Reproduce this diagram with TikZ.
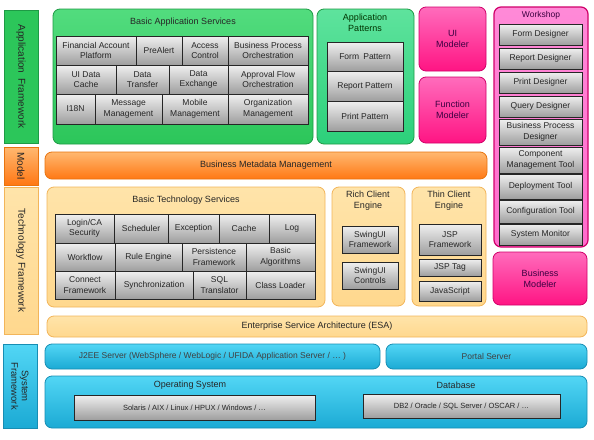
\documentclass[tikz,border=0pt]{standalone}
\usepackage{fontspec}
\setmainfont{Liberation Sans}
\usepackage{tikz}
\usetikzlibrary{calc}

\definecolor{appgreen}{HTML}{2CC65A}
\definecolor{appgreenlt}{HTML}{52DC7E}
\definecolor{appgreendk}{HTML}{1E9A45}
\definecolor{patgreen}{HTML}{2CD07A}
\definecolor{patgreenlt}{HTML}{5EE39D}
\definecolor{pinkdk}{HTML}{FF1483}
\definecolor{pinklt}{HTML}{FF6CBC}
\definecolor{pinkline}{HTML}{D0006A}
\definecolor{wspink}{HTML}{FF6CCD}
\definecolor{pinktext}{HTML}{3A0040}
\definecolor{orangedk}{HTML}{FF7814}
\definecolor{orangelt}{HTML}{FFB870}
\definecolor{orangeline}{HTML}{E8740F}
\definecolor{paleorange}{HTML}{FFE4AA}
\definecolor{paleorangedk}{HTML}{FFD88E}
\definecolor{paleline}{HTML}{F2B55A}
\definecolor{cyanlt}{HTML}{52D6F5}
\definecolor{cyandk}{HTML}{1BAAD4}
\definecolor{cyanline}{HTML}{178DB3}

\begin{document}
\begin{tikzpicture}[x=1pt,y=-1pt,
    frame/.style={rounded corners=7pt, inner sep=0pt, line width=0.8pt},
    greenframe/.style={frame, draw=appgreendk, top color=appgreenlt, bottom color=appgreen},
    patframe/.style={frame, draw=appgreendk, top color=patgreenlt, bottom color=patgreen},
    pinkframe/.style={frame, draw=pinkline, top color=pinklt, bottom color=pinkdk,
        text=pinktext, align=center, font=\fontsize{9}{11}\selectfont},
    orangeframe/.style={frame, draw=orangeline, top color=orangelt, bottom color=orangedk},
    paleframe/.style={frame, draw=paleline, top color=paleorange, bottom color=paleorangedk},
    cyanframe/.style={frame, draw=cyanline, top color=cyanlt, bottom color=cyandk,
        text=black!75, font=\fontsize{8.5}{10}\selectfont},
    side/.style={inner sep=0pt, line width=0.8pt},
    sidetext/.style={rotate=-90, align=center, text=black!85, font=\fontsize{10}{11}\selectfont},
    cell/.style={draw=black!85, line width=0.7pt, top color=black!6, bottom color=black!38,
        inner sep=0pt, align=center, text=black!85, font=\fontsize{8.5}{10.5}\selectfont},
    title/.style={align=center, text=black!85, font=\fontsize{9}{11}\selectfont}]

    % Page size of the reference
    \useasboundingbox (0,0) rectangle (594,439);

    % Box from corner (x1,y1) to corner (x2,y2): style, name, x1, y1, x2, y2, text
    \def\boxat#1#2#3#4#5#6#7{%
      \node[#1, minimum width={(#5-#3)*1pt}, minimum height={(#6-#4)*1pt}]
        (#2) at ({(#3+#5)/2},{(#4+#6)/2}) {#7};}

    % Layer labels on the left
    \boxat{side, draw=appgreendk, fill=appgreen}{appfw}{4}{10}{38}{143}{}
    \boxat{side, draw=orangeline, top color=orangelt, bottom color=orangedk}{modelfw}{4}{147}{38}{185}{}
    \boxat{side, draw=paleline, top color=paleorange, bottom color=paleorangedk}{techfw}{4}{187}{38}{334}{}
    \boxat{side, draw=cyanline, top color=cyanlt, bottom color=cyandk}{sysfw}{3}{344}{37}{428}{}
    \node[sidetext] (appfwtxt) at (appfw) {Application\enspace Framework};
    \node[sidetext] (modelfwtxt) at (modelfw) {Model};
    \node[sidetext] (techfwtxt) at (techfw) {Technology Framework};
    \node[sidetext, font=\fontsize{9.5}{10.5}\selectfont] (sysfwtxt) at (sysfw) {System\\Framework};

    % Basic application services
    \boxat{greenframe}{bas}{53}{9}{313}{144}{}
    \node[title] (bastitle) at (183,22) {Basic Application Services};
    \boxat{cell}{fap}{56}{36}{136}{65}{Financial Account\\Platform}
    \boxat{cell}{prealert}{136}{36}{182}{65}{PreAlert}
    \boxat{cell}{access}{182}{36}{228}{65}{Access\\Control}
    \boxat{cell}{bpo}{228}{36}{308}{65}{Business Process\\Orchestration}
    \boxat{cell}{uicache}{56}{65}{116}{94}{UI Data\\Cache}
    \boxat{cell}{transfer}{116}{65}{169}{94}{Data\\Transfer}
    \boxat{cell}{exchange}{169}{65}{228}{94}{Data\\Exchange}
    \boxat{cell}{approval}{228}{65}{308}{94}{Approval Flow\\Orchestration}
    \boxat{cell}{ieighteen}{56}{94}{95}{124}{I18N}
    \boxat{cell}{message}{95}{94}{162}{124}{Message\\Management}
    \boxat{cell}{mobile}{162}{94}{228}{124}{Mobile\\Management}
    \boxat{cell}{orgmgmt}{228}{94}{308}{124}{Organization\\Management}

    % Application patterns
    \boxat{patframe}{pat}{317}{9}{414}{144}{}
    \node[title, text=black!80!green] (pattitle) at (365,23) {Application\\Patterns};
    \boxat{cell}{formpat}{327}{42}{403}{71}{Form\enspace Pattern}
    \boxat{cell}{reportpat}{327}{71}{403}{101}{Report Pattern}
    \boxat{cell}{printpat}{327}{101}{403}{131}{Print Pattern}

    % Modelers
    \boxat{pinkframe}{uimod}{419}{7}{486}{71}{UI\\Modeler}
    \boxat{pinkframe}{funcmod}{419}{77}{486}{143}{Function\\Modeler}
    \boxat{pinkframe}{bizmod}{493}{252}{587}{305}{Business\\Modeler}

    % Workshop
    \boxat{frame, draw=pinkline, line width=1.2pt, top color=wspink!80, bottom color=wspink}{ws}{494}{7}{588}{247}{}
    \node[title, text=pinktext, font=\fontsize{8.5}{10}\selectfont] (wstitle) at (541,15) {Workshop};
    \boxat{cell}{formdes}{499}{24}{582}{45}{Form Designer}
    \boxat{cell}{reportdes}{499}{48}{582}{69}{Report Designer}
    \boxat{cell}{printdes}{499}{72}{582}{93}{Print Designer}
    \boxat{cell}{querydes}{499}{96}{582}{117}{Query Designer}
    \boxat{cell}{bpdes}{499}{119}{582}{145}{Business Process\\Designer}
    \boxat{cell}{comptool}{499}{147}{582}{173}{Component\\Management Tool}
    \boxat{cell}{deploytool}{499}{174}{582}{199}{Deployment Tool}
    \boxat{cell}{configtool}{499}{200}{582}{223}{Configuration Tool}
    \boxat{cell}{sysmon}{499}{224}{582}{245}{System Monitor}

    % Business metadata
    \boxat{orangeframe, font=\fontsize{9}{11}\selectfont, text=black!85}{bmm}{45}{152}{487}{179}{Business Metadata Management}

    % Basic technology services
    \boxat{paleframe}{bts}{47}{187}{325}{307}{}
    \node[title] (btstitle) at (186,200) {Basic Technology Services};
    \boxat{cell}{login}{55}{214}{114}{243}{Login/CA\\Security}
    \boxat{cell}{sched}{114}{214}{168}{243}{Scheduler}
    \boxat{cell}{except}{168}{214}{219}{243}{Exception}
    \boxat{cell}{cache}{219}{214}{269}{243}{Cache}
    \boxat{cell}{log}{269}{214}{315}{243}{Log}
    \boxat{cell}{workflow}{55}{243}{115}{271}{Workflow}
    \boxat{cell}{rule}{115}{243}{182}{271}{Rule Engine}
    \boxat{cell}{persist}{182}{243}{246}{271}{Persistence\\Framework}
    \boxat{cell}{algo}{246}{243}{315}{271}{Basic\\Algorithms}
    \boxat{cell}{connect}{55}{271}{115}{299}{Connect\\Framework}
    \boxat{cell}{sync}{115}{271}{193}{299}{Synchronization}
    \boxat{cell}{sqltr}{193}{271}{246}{299}{SQL\\Translator}
    \boxat{cell}{loader}{246}{271}{315}{299}{Class Loader}

    % Client engines
    \boxat{paleframe}{rich}{332}{187}{405}{306}{}
    \node[title] (richtitle) at (368,201) {Rich Client\\Engine};
    \boxat{cell}{swingfw}{342}{226}{398}{253}{SwingUI\\Framework}
    \boxat{cell}{swingctl}{342}{262}{398}{289}{SwingUI\\Controls}
    \boxat{paleframe}{thin}{412}{187}{486}{306}{}
    \node[title] (thintitle) at (449,201) {Thin Client\\Engine};
    \boxat{cell}{jspfw}{419}{224}{481}{255}{JSP\\Framework}
    \boxat{cell}{jsptag}{419}{259}{481}{276}{JSP Tag}
    \boxat{cell}{jscript}{419}{281}{481}{301}{JavaScript}

    % ESA
    \boxat{paleframe, font=\fontsize{9}{11}\selectfont, text=black!85}{esa}{47}{316}{587}{337}{Enterprise Service Architecture (ESA)}

    % System framework
    \boxat{cyanframe}{j2ee}{45}{344}{380}{369}{J2EE Server (WebSphere / WebLogic / UFIDA Application Server / \dots\ )}
    \boxat{cyanframe}{portal}{386}{344}{587}{369}{Portal Server}
    \boxat{cyanframe}{osdb}{45}{376}{587}{428}{}
    \node[title] (ostitle) at (190,385) {Operating System};
    \node[title] (dbtitle) at (456,385) {Database};
    \boxat{cell, font=\fontsize{7.5}{9}\selectfont}{oslist}{74}{395}{315}{420}{Solaris / AIX / Linux / HPUX / Windows / \dots}
    \boxat{cell, font=\fontsize{7.5}{9}\selectfont}{dblist}{363}{394}{560}{418}{DB2 / Oracle / SQL Server / OSCAR / \dots}
\end{tikzpicture}
\end{document}
